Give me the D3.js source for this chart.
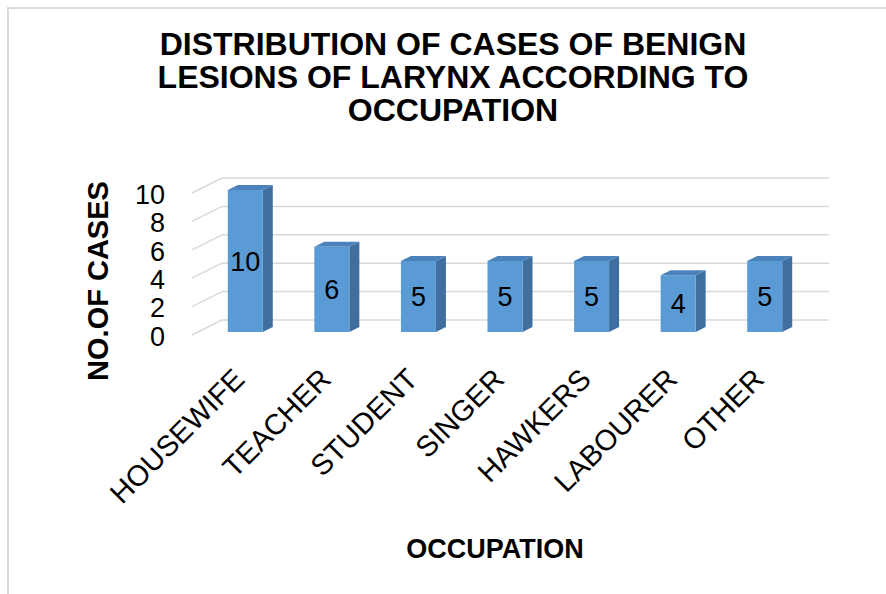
<!doctype html>
<html>
<head>
<meta charset="utf-8">
<title>Occupation chart</title>
<script src="https://d3js.org/d3.v7.min.js"></script>
<style>
	body{margin:0;background:#fff;}
	svg{display:block;font-family:"Liberation Sans",Arial,sans-serif;}
</style>
</head>
<body>
<div id="chart"></div>
<script>
// data
var categories = ["HOUSEWIFE","TEACHER","STUDENT","SINGER","HAWKERS","LABOURER","OTHER"];
var cases = [10, 6, 5, 5, 5, 4, 5];
var yTicks = [0, 2, 4, 6, 8, 10];
var titleLines = ["DISTRIBUTION OF CASES OF BENIGN","LESIONS OF LARYNX ACCORDING TO","OCCUPATION"];

var width = 886, height = 594;

var svg = d3.select("#chart").append("svg")
	.attr("width", width)
	.attr("height", height);

// outer frame
svg.append("rect")
	.attr("x", 8).attr("y", 8)
	.attr("width", 900).attr("height", 620)
	.attr("fill", "none")
	.attr("stroke", "#d9d9d9")
	.attr("stroke-width", 2);

// scales (front plane)
var x = d3.scaleBand()
	.domain(categories)
	.range([202, 808]);

var y = d3.scaleLinear()
	.domain([0, 10])
	.range([335, 193]);

// depth offsets for the 3d look
var wall = {dx: 30, dy: -15};
var barFront = {dx: 0, dy: -3};
var barDepth = {dx: 10, dy: -5};
var barW = 35;

// gridlines: floor diagonal + back wall line
var grid = svg.append("g");
yTicks.forEach(function(t){
	grid.append("line")
		.attr("x1", 192).attr("y1", y(t))
		.attr("x2", 192 + wall.dx).attr("y2", y(t) + wall.dy)
		.attr("stroke", "#d9d9d9").attr("stroke-width", 1.5);
	grid.append("line")
		.attr("x1", 192 + wall.dx).attr("y1", y(t) + wall.dy)
		.attr("x2", 829).attr("y2", y(t) + wall.dy)
		.attr("stroke", "#d9d9d9").attr("stroke-width", 1.5);
});

// y tick labels
svg.append("g").selectAll("text")
	.data(yTicks)
	.enter()
	.append("text")
	.attr("x", 165)
	.attr("y", function(d){ return y(d) + 1; })
	.attr("dy", "0.36em")
	.attr("text-anchor", "end")
	.attr("font-size", 27)
	.text(function(d){ return d; });

// bars
var bars = svg.append("g").selectAll("g")
	.data(cases)
	.enter()
	.append("g");

function bx(i){ return x(categories[i]) + x.bandwidth()/2 - barW/2 + barFront.dx; }
function by(v){ return y(v) + barFront.dy; }

// side face
bars.append("path")
	.attr("fill", "#3f6f9f")
	.attr("d", function(d, i){
		var x0 = bx(i) + barW, y0 = by(d), y1 = by(0);
		return "M" + x0 + "," + y0 + "L" + (x0 + barDepth.dx) + "," + (y0 + barDepth.dy) +
			"L" + (x0 + barDepth.dx) + "," + (y1 + barDepth.dy) + "L" + x0 + "," + y1 + "Z";
	});
// top face
bars.append("path")
	.attr("fill", "#4a83bb")
	.attr("d", function(d, i){
		var x0 = bx(i), y0 = by(d);
		return "M" + x0 + "," + y0 + "L" + (x0 + barDepth.dx) + "," + (y0 + barDepth.dy) +
			"L" + (x0 + barW + barDepth.dx) + "," + (y0 + barDepth.dy) + "L" + (x0 + barW) + "," + y0 + "Z";
	});
// front face
bars.append("rect")
	.attr("x", function(d, i){ return bx(i); })
	.attr("y", function(d){ return by(d); })
	.attr("width", barW)
	.attr("height", function(d){ return by(0) - by(d); })
	.attr("fill", "#5b9bd5");

// value labels
bars.append("text")
	.attr("x", function(d, i){ return bx(i) + barW/2; })
	.attr("y", function(d){ return (by(d) + by(0))/2; })
	.attr("dy", "0.36em")
	.attr("text-anchor", "middle")
	.attr("font-size", 27)
	.text(function(d){ return d; });

// category labels, rotated
svg.append("g").selectAll("text")
	.data(categories)
	.enter()
	.append("text")
	.attr("transform", function(d){
		return "translate(" + (x(d) + x.bandwidth()/2 + 1) + ",381) rotate(-45)";
	})
	.attr("text-anchor", "end")
	.attr("font-size", 29)
	.text(function(d){ return d; });

// title
svg.append("g").selectAll("text")
	.data(titleLines)
	.enter()
	.append("text")
	.attr("x", 453)
	.attr("y", function(d, i){ return 55 + i*33; })
	.attr("text-anchor", "middle")
	.attr("font-size", 32)
	.attr("font-weight", "bold")
	.text(function(d){ return d; });

// axis titles
svg.append("text")
	.attr("transform", "translate(108,281) rotate(-90)")
	.attr("text-anchor", "middle")
	.attr("font-size", 29)
	.attr("font-weight", "bold")
	.text("NO.OF CASES");

svg.append("text")
	.attr("x", 495)
	.attr("y", 558)
	.attr("text-anchor", "middle")
	.attr("font-size", 27)
	.attr("font-weight", "bold")
	.text("OCCUPATION");
</script>
</body>
</html>
